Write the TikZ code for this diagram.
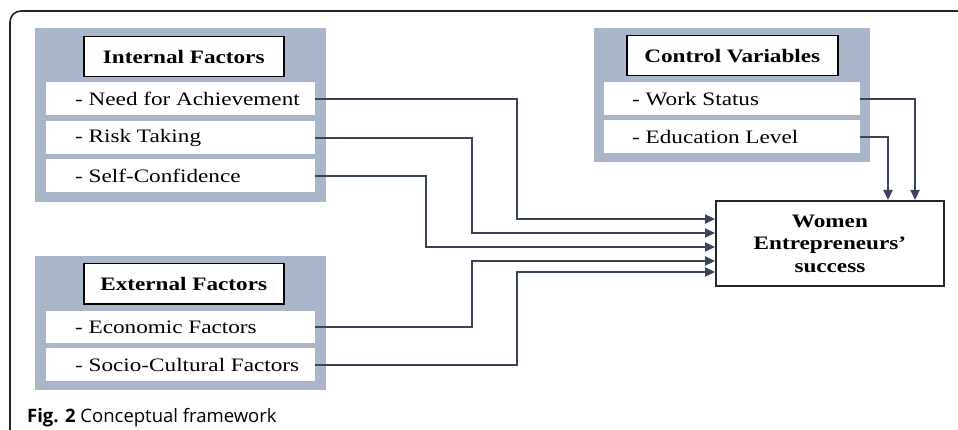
\documentclass[tikz,border=0pt]{standalone}
\usepackage{fontspec}
\setmainfont[FakeStretch=1.22]{Liberation Serif}
\newfontfamily\capfont{Open Sans}
\usetikzlibrary{arrows.meta}
\definecolor{panel}{RGB}{170,182,201}
\definecolor{conn}{RGB}{56,68,88}
\definecolor{frame}{RGB}{35,35,35}
\tikzset{
  panelbox/.style={fill=panel, draw=none, anchor=north west, inner sep=0},
  titlebox/.style={draw=black, line width=1.5pt, fill=white, anchor=north west, inner sep=0, font=\fontsize{19}{22}\selectfont\bfseries},
  itembox/.style={fill=white, draw=none, anchor=north west, inner sep=0},
  itemtext/.style={anchor=west, inner sep=0, font=\fontsize{19}{22}\selectfont},
  connector/.style={draw=conn, line width=2.2pt, -{Triangle[length=10pt,width=9pt]}},
  outcome/.style={draw=black!85, line width=1.8pt, fill=white, anchor=north west, inner sep=0, align=center, font=\fontsize{19}{22.5}\selectfont\bfseries},
}
\begin{document}
\begin{tikzpicture}[x=1pt,y=-1pt]
\useasboundingbox (0,0) rectangle (958,430);
% outer frame
\draw[frame, line width=1.6pt, rounded corners=11pt] (10,430) -- (10,11) -- (958,11);
% Internal factors
\node[panelbox, minimum width=291, minimum height=174] (ip) at (35,28) {};
\node[titlebox, minimum width=200, minimum height=40] (it) at (83,36) {Internal Factors};
\node[itembox, minimum width=269, minimum height=33] (na) at (46,82) {};
\node[itemtext] (nat) at ([xshift=29pt]na.west) {- Need for Achievement};
\node[itembox, minimum width=269, minimum height=33] (rt) at (46,121) {};
\node[itemtext] (rtt) at ([xshift=29pt]rt.west) {- Risk Taking};
\node[itembox, minimum width=269, minimum height=33] (sc) at (46,159) {};
\node[itemtext] (sct) at ([xshift=29pt]sc.west) {- Self-Confidence};
% External factors
\node[panelbox, minimum width=291, minimum height=134] (ep) at (35,256) {};
\node[titlebox, minimum width=200, minimum height=40] (et) at (83,263) {External Factors};
\node[itembox, minimum width=269, minimum height=32] (ec) at (46,311) {};
\node[itemtext] (ect) at ([xshift=29pt]ec.west) {- Economic Factors};
\node[itembox, minimum width=269, minimum height=33] (so) at (46,348) {};
\node[itemtext] (sot) at ([xshift=29pt]so.west) {- Socio-Cultural Factors};
% Control variables
\node[panelbox, minimum width=276, minimum height=134] (cp) at (594,28) {};
\node[titlebox, minimum width=211, minimum height=40] (ctt) at (626,35) {Control Variables};
\node[itembox, minimum width=256, minimum height=33] (ws) at (604,82) {};
\node[itemtext] (wst) at ([xshift=28pt]ws.west) {- Work Status};
\node[itembox, minimum width=256, minimum height=33] (el) at (604,120) {};
\node[itemtext] (elt) at ([xshift=28pt]el.west) {- Education Level};
% Outcome
\node[outcome, minimum width=228, minimum height=85] (wes) at (715,200) {Women\\Entrepreneurs'\\success};
% connector targets
\coordinate (t1) at (715,219);
\coordinate (t2) at (715,233);
\coordinate (t3) at (715,247);
\coordinate (t4) at (715,261);
\coordinate (t5) at (715,272);
\coordinate (c1) at (915,200);
\coordinate (c2) at (888,200);
% connectors
\draw[connector] (na.east) -| (517,219) -- (t1);
\draw[connector] (rt.east) -| (472,233) -- (t2);
\draw[connector] (sc.east) -| (426,247) -- (t3);
\draw[connector] (ec.east) -| (472,261) -- (t4);
\draw[connector] (so.east) -| (517,272) -- (t5);
\draw[connector] (ws.east) -| (c1);
\draw[connector] (el.east) -| (c2);
% caption
\node[anchor=base west, inner sep=0, font=\capfont\fontsize{18.5}{22}\selectfont] (cap) at (27,422) {\textbf{Fig. 2} Conceptual framework};
\end{tikzpicture}
\end{document}
